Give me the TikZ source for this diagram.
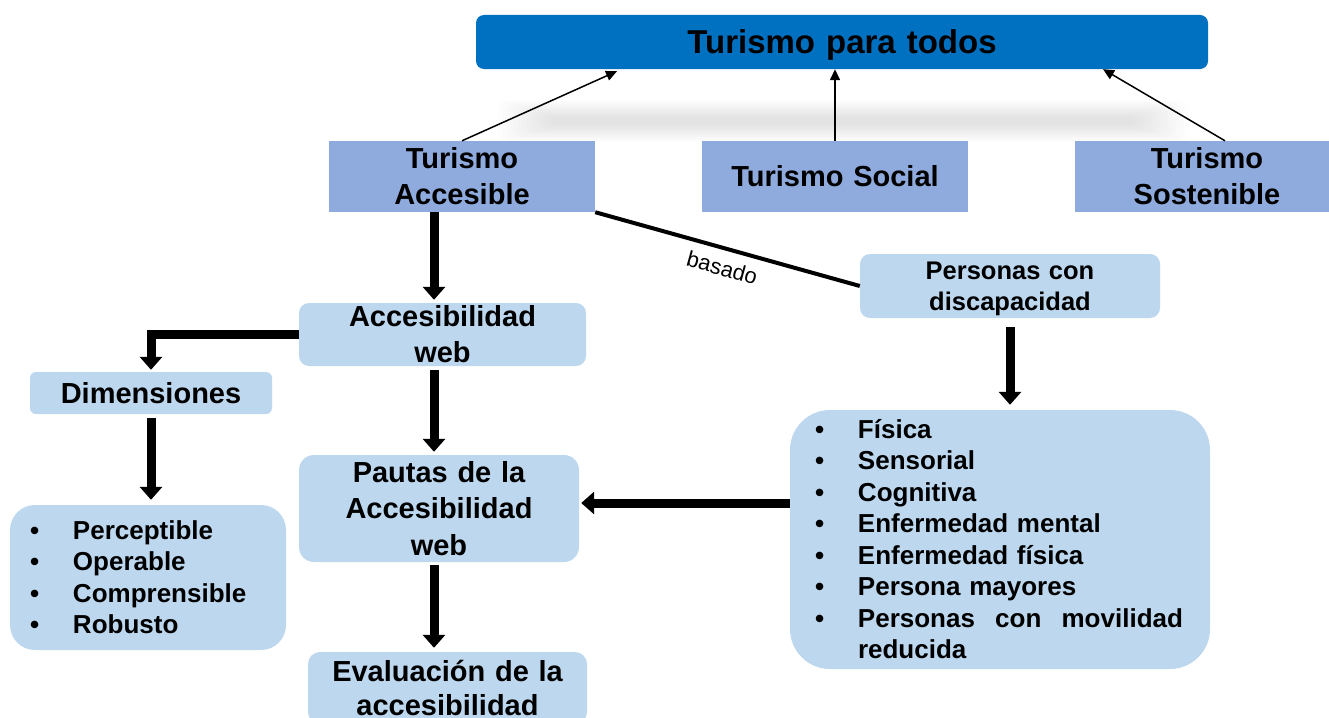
\documentclass[tikz,border=0pt]{standalone}
\usepackage{fontspec}
\setmainfont{Liberation Sans}
\usetikzlibrary{arrows.meta,calc}
\definecolor{titleblue}{HTML}{0070C0}
\definecolor{midblue}{HTML}{8FAADC}
\definecolor{lightblue}{HTML}{BDD7EE}
\newcommand\mystrut{\rule[-0.212em]{0pt}{1.117em}}
\newcommand\smallstrut{\rule[-0.08em]{0pt}{0.88em}}
\newcommand\bul{\makebox[43pt][l]{\textbullet}}
\begin{document}
\begin{tikzpicture}[x=1pt,y=-1pt,
  plainbox/.style={rectangle, inner sep=0pt, align=center, font=\bfseries\fontsize{29}{36.5}\selectfont},
  box/.style={plainbox, execute at begin node=\mystrut, execute at end node=\mystrut},
  lbox/.style={box, fill=lightblue},
  listbox/.style={box, fill=lightblue, align=left, font=\bfseries\fontsize{26}{31.5}\selectfont},
  thinarrow/.style={line width=1.5pt, -{Triangle[width=10pt,length=11pt]}},
  thickarrow/.style={line width=9pt, -{Triangle[width=22pt,length=13pt]}}]
\useasboundingbox (0,0) rectangle (1329,717);
% soft shadow under title
\foreach \k in {0,...,13}
  \fill[black, opacity=0.008, rounded corners=8pt] (498+\k*4,100+\k*1.3) rectangle (1188-\k*4,142-\k*1.3);
% nodes
\node[box, fill=titleblue, rounded corners=8pt, text width=732pt, minimum height=54pt,
      font=\bfseries\fontsize{33}{36}\selectfont] (tpt) at (842,42) {Turismo para todos};
\node[box, fill=midblue, text width=266pt, minimum height=71pt] (acc) at (462,176.5) {Turismo\\Accesible};
\node[box, fill=midblue, text width=266pt, minimum height=71pt] (soc) at (835,176.5) {Turismo Social};
\node[box, fill=midblue, text width=264pt, minimum height=71pt] (sos) at (1207,176.5) {Turismo\\Sostenible};
\node[plainbox, fill=lightblue, rounded corners=10pt, text width=287pt, minimum height=63pt,
      font=\bfseries\fontsize{29}{36}\selectfont] (web) at (442.5,334.5) {\smallstrut Accesibilidad\\web\smallstrut};
\node[lbox, rounded corners=10pt, text width=300pt, minimum height=64pt,
      font=\bfseries\fontsize{25.5}{31}\selectfont] (pcd) at (1010,286) {Personas con\\discapacidad};
\node[lbox, rounded corners=6pt, text width=242pt, minimum height=42pt] (dim) at (151,393) {Dimensiones};
\node[lbox, rounded corners=15pt, text width=280pt, minimum height=107pt] (pau) at (439,508.5) {Pautas de la\\Accesibilidad\\web};
\node[lbox, rounded corners=12pt, text width=279pt, minimum height=72pt,
      font=\bfseries\fontsize{29}{34}\selectfont] (eva) at (447.5,688) {Evaluación de la\\accesibilidad};
\node[listbox, rounded corners=25pt, inner xsep=20pt, text width=236pt, minimum height=145pt] (ll) at (148,577.5)
  {\bul Perceptible\\
   \bul Operable\\
   \bul Comprensible\\
   \bul Robusto};
\node[listbox, rounded corners=40pt, inner xsep=25pt, text width=370pt, minimum height=259pt] (rl) at (1000,539.5)
  {\bul Física\\
   \bul Sensorial\\
   \bul Cognitiva\\
   \bul Enfermedad mental\\
   \bul Enfermedad física\\
   \bul Persona mayores\\
   \bul \makebox[325pt][l]{Personas\hfill con\hfill movilidad}\\
   \hspace*{43pt}reducida};
% thin arrows to title
\draw[thinarrow] (acc.north) -- ($(tpt.south)+(-225,2)$);
\draw[thinarrow] (soc.north) -- (soc.north |- tpt.south);
\draw[thinarrow] ($(sos.north)+(18,0)$) -- ($(tpt.south)+(261,0)$);
% basado line
\draw[line width=4pt] (acc.south east) -- node[sloped, below=6pt, font=\fontsize{22}{24}\selectfont] (bas) {basado} (pcd.west);
% thick arrows
\coordinate (aa) at ($(acc.south)+(-28,0)$);
\draw[thickarrow, shorten >=3pt] (aa) -- (aa |- web.north);
\draw[thickarrow, shorten >=2pt] (web.west) -| (dim.north);
\draw[thickarrow, shorten <=4pt, shorten >=5pt] (dim.south) -- (dim.south |- ll.north);
\coordinate (wa) at ($(web.south)+(-8.5,0)$);
\draw[thickarrow, shorten <=4pt, shorten >=3pt] (wa) -- (wa |- pau.north);
\coordinate (pa) at ($(pau.south)+(-5,0)$);
\draw[thickarrow, shorten <=3pt, shorten >=4pt] (pa) -- (pa |- eva.north);
\draw[thickarrow, shorten <=9pt, shorten >=5pt] (pcd.south) -- (pcd.south |- rl.north);
\coordinate (ra) at ($(rl.west)+(0,-36.5)$);
\draw[thickarrow, shorten >=2pt] (ra) -- (ra -| pau.east);
\end{tikzpicture}
\end{document}
